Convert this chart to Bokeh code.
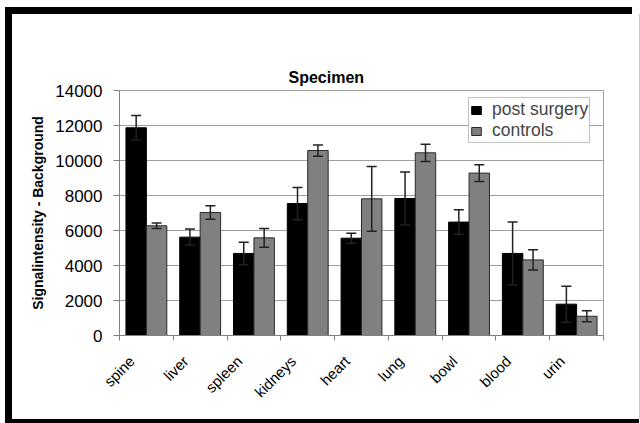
from math import pi
from bokeh.plotting import figure
from bokeh.models import (Range1d, LinearAxis, FixedTicker, ColumnDataSource, Title)
from bokeh.transform import dodge
from bokeh.embed import file_html
from bokeh.resources import INLINE

categories = ["spine", "liver", "spleen", "kidneys", "heart", "lung", "bowl", "blood", "urin"]
post_surgery = [11870, 5620, 4690, 7540, 5560, 7830, 6480, 4690, 1790]
post_surgery_err = [700, 460, 640, 920, 290, 1520, 700, 1790, 1030]
controls = [6270, 7030, 5580, 10570, 7810, 10440, 9280, 4320, 1100]
controls_err = [160, 380, 530, 320, 1850, 490, 480, 580, 310]
y_ticks = [0, 2000, 4000, 6000, 8000, 10000, 12000, 14000]
series_names = ["post surgery", "controls"]
title_text = "Specimen"
y_label_text = "Signalintensity - Background"

FONT = "Liberation Sans"

n = len(categories)
cat_pos = [i + 0.5 for i in range(n)]                 # category centres on a numeric axis
edge_pos = list(range(n + 1))                         # category boundaries (tick marks)
label_pos = [round(c - 0.27, 2) for c in cat_pos]     # anchor of the slanted labels

src = ColumnDataSource(dict(
    cat=categories,
    pos=cat_pos,
    post=post_surgery,
    post_lo=[v - e for v, e in zip(post_surgery, post_surgery_err)],
    post_hi=[v + e for v, e in zip(post_surgery, post_surgery_err)],
    ctrl=controls,
    ctrl_lo=[v - e for v, e in zip(controls, controls_err)],
    ctrl_hi=[v + e for v, e in zip(controls, controls_err)],
))

p = figure(x_range=Range1d(0, n), y_range=Range1d(0, 14000), title=None,
           width=627, height=405, output_backend="svg", toolbar_location=None,
           x_axis_location=None, min_border_left=107, min_border_right=36,
           min_border_top=76, min_border_bottom=84)
# black picture frame drawn as box shadows (does not change the layout)
p.styles = {"margin-left": "12px", "margin-top": "14px",
            "box-shadow": "-7px -7px 0 0 black, 0 4px 0 0 black, -7px 4px 0 0 black, "
                          "1px 0 0 0 #c8c8c8"}
p.background_fill_color = "white"
p.border_fill_color = "white"
p.outline_line_color = "#a0a0a0"
p.outline_line_width = 1

# title, then an invisible spacer that sits between the title and the frame
p.add_layout(Title(text=title_text, align="left", offset=169, standoff=10,
                   text_font=FONT, text_font_size="16px", text_font_style="bold",
                   text_color="black"), "above")
p.add_layout(Title(text=" ", text_font=FONT, text_font_size="16px", text_alpha=0,
                   standoff=22), "above")

# y axis
yax = p.yaxis[0]
yax.ticker = FixedTicker(ticks=y_ticks)
yax.major_label_text_font = FONT
yax.major_label_text_font_size = "17px"
yax.major_label_text_color = "black"
yax.axis_line_color = "#808080"
yax.major_tick_line_color = "#808080"
yax.minor_tick_line_color = None
yax.major_tick_out = 6
yax.major_tick_in = 0
yax.major_label_standoff = 11
yax.axis_label = y_label_text
yax.axis_label_text_font = FONT
yax.axis_label_text_font_size = "14px"
yax.axis_label_text_font_style = "bold"
yax.axis_label_text_color = "black"
yax.axis_label_standoff = 6
p.ygrid.grid_line_color = "#a0a0a0"
p.ygrid.ticker = FixedTicker(ticks=y_ticks)
p.xgrid.grid_line_color = None

# x axes: ticks at category boundaries, labels at centres
tick_axis = LinearAxis(ticker=FixedTicker(ticks=edge_pos),
                       major_tick_out=5, major_tick_in=0, axis_line_color="#808080",
                       major_tick_line_color="#808080", minor_tick_line_color=None,
                       major_label_text_font_size="0px", major_label_standoff=0,
                       major_label_overrides={e: "" for e in edge_pos})
p.add_layout(tick_axis, "below")
label_axis = LinearAxis(ticker=FixedTicker(ticks=label_pos),
                        axis_line_color=None, major_tick_line_color=None, minor_tick_line_color=None,
                        major_tick_out=0, major_tick_in=0,
                        major_label_overrides={lp: c for lp, c in zip(label_pos, categories)},
                        major_label_orientation=pi / 4, major_label_standoff=18,
                        major_label_text_font=FONT, major_label_text_font_size="15px",
                        major_label_text_color="black")
p.add_layout(label_axis, "below")

# bars
p.vbar(x=dodge("pos", -0.19), top="post", width=0.38, source=src,
       fill_color="black", line_color="black", line_width=1, legend_label=series_names[0])
p.vbar(x=dodge("pos", 0.19), top="ctrl", width=0.38, source=src,
       fill_color="#808080", line_color="#2a2a2a", line_width=1, legend_label=series_names[1])

# error bars
for off, lo, hi in [(-0.19, "post_lo", "post_hi"), (0.19, "ctrl_lo", "ctrl_hi")]:
    xd = dodge("pos", off)
    p.segment(x0=xd, y0=lo, x1=xd, y1=hi, source=src, line_color="#222222", line_width=1.5)
    p.scatter(x=xd, y=hi, source=src, marker="dash", size=10, line_color="#222222", line_width=1.5)
    p.scatter(x=xd, y=lo, source=src, marker="dash", size=10, line_color="#222222", line_width=1.5)

# legend
lg = p.legend[0]
lg.location = (349, 192)
lg.label_text_font = FONT
lg.label_text_font_size = "17.5px"
lg.glyph_width = 12
lg.glyph_height = 10
lg.label_standoff = 10
lg.padding = 1
lg.spacing = 0
lg.margin = 0
lg.border_line_color = "#808080"
lg.border_line_width = 1
lg.background_fill_color = "white"
lg.background_fill_alpha = 1

open("out.html", "w").write(file_html(p, INLINE))
